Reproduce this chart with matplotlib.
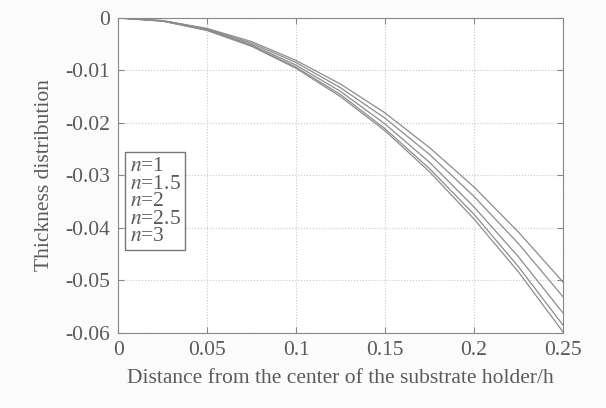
import matplotlib
matplotlib.use("Agg")
import matplotlib.pyplot as plt

# distance from the holder centre (in units of h)
x = [0, 0.025, 0.05, 0.075, 0.1, 0.125, 0.15, 0.175, 0.2, 0.225, 0.25]

# thickness distribution
n_1 = [0, -0.0005, -0.0020, -0.0045, -0.0081, -0.0126, -0.0181, -0.0247, -0.0322, -0.0408, -0.0503]
n_15 = [0, -0.0005, -0.0021, -0.0048, -0.0085, -0.0133, -0.0191, -0.0260, -0.0340, -0.0430, -0.0531]
n_2 = [0, -0.0006, -0.0022, -0.0051, -0.0090, -0.0140, -0.0202, -0.0275, -0.0360, -0.0455, -0.0562]
n_25 = [0, -0.0006, -0.0023, -0.0053, -0.0094, -0.0146, -0.0211, -0.0287, -0.0374, -0.0474, -0.0585]
n_3 = [0, -0.0006, -0.0024, -0.0054, -0.0096, -0.0150, -0.0215, -0.0293, -0.0383, -0.0484, -0.0598]

labels = ["$n$=1", "$n$=1.5", "$n$=2", "$n$=2.5", "$n$=3"]
series = [n_1, n_15, n_2, n_25, n_3]

xticks = [0, 0.05, 0.1, 0.15, 0.2, 0.25]
xticklabels = ["0", "0.05", "0.1", "0.15", "0.2", "0.25"]
yticks = [0, -0.01, -0.02, -0.03, -0.04, -0.05, -0.06]
yticklabels = ["0", "-0.01", "-0.02", "-0.03", "-0.04", "-0.05", "-0.06"]

text_col = "#5a5a5a"
line_col = "#8c8c8c"
fs = 15.5

plt.rcParams["font.family"] = ["Liberation Serif", "DejaVu Serif"]
plt.rcParams["mathtext.fontset"] = "stix"

fig = plt.figure(figsize=(6.06, 4.08), dpi=100, facecolor="#fbfbfb")
ax = fig.add_axes([0.195, 0.184, 0.734, 0.772])
ax.set_facecolor("white")

for ys, lab in zip(series, labels):
    ax.plot(x, ys, color=line_col, linewidth=0.9, label=lab)

ax.set_xlim(0, 0.25)
ax.set_ylim(-0.06, 0)
ax.set_xticks(xticks)
ax.set_xticklabels(xticklabels)
ax.set_yticks(yticks)
ax.set_yticklabels(yticklabels)

ax.grid(True, linestyle=":", color="#c8c8c8", linewidth=0.8)
ax.tick_params(direction="in", top=True, right=True, length=4,
               color="#888888", labelcolor=text_col, labelsize=fs, pad=6)
for s in ax.spines.values():
    s.set_color("#888888")
    s.set_linewidth(0.8)

ax.set_xlabel("Distance from the center of the substrate holder/h",
              fontsize=fs, color=text_col, labelpad=6)
ax.set_ylabel("Thickness distribution", fontsize=fs, color=text_col, labelpad=8)

leg = ax.legend(loc="upper left", bbox_to_anchor=(0.016, 0.575), borderaxespad=0,
                handlelength=0, handletextpad=0, fontsize=fs, labelspacing=-0.12,
                fancybox=False, framealpha=1, edgecolor="#777777",
                borderpad=0.2)
for t in leg.get_texts():
    t.set_color(text_col)
leg.get_frame().set_linewidth(1.0)

fig.savefig("out.png", dpi=100, facecolor=fig.get_facecolor())
